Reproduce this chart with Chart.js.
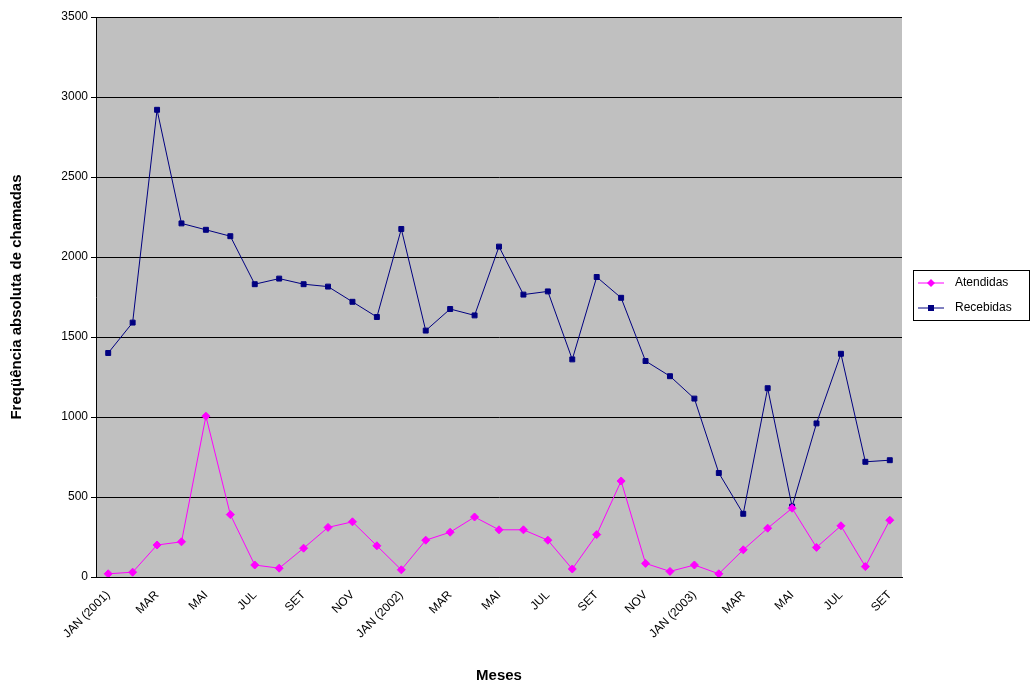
<!DOCTYPE html>
<html>
<head>
<meta charset="utf-8">
<script src="https://cdn.jsdelivr.net/npm/chart.js@4"></script>
<style>
  body { margin: 0; background: #fff; }
  #wrap { position: relative; width: 1031px; height: 689px; }
</style>
</head>
<body>
<div id="wrap"><canvas id="c"></canvas></div>
<script>
const months = ["JAN (2001)","FEV","MAR","ABR","MAI","JUN","JUL","AGO","SET","OUT","NOV","DEZ",
  "JAN (2002)","FEV","MAR","ABR","MAI","JUN","JUL","AGO","SET","OUT","NOV","DEZ",
  "JAN (2003)","FEV","MAR","ABR","MAI","JUN","JUL","AGO","SET"];
const atendidas = [20,30,200,220,1005,390,75,55,180,310,345,195,45,230,280,375,295,295,230,50,265,600,85,35,75,20,170,305,430,185,320,65,355];
const recebidas = [1400,1590,2920,2210,2170,2130,1830,1865,1830,1815,1720,1625,2175,1540,1675,1635,2065,1765,1785,1360,1875,1745,1350,1255,1115,650,395,1180,440,960,1395,720,730];

const font = "'Liberation Sans', Arial, sans-serif";
Chart.defaults.font.family = font;
Chart.defaults.color = "#000";

// gray plot background + legend box
const plotBg = {
  id: "plotBg",
  beforeDraw(chart) {
    const { ctx, chartArea: a } = chart;
    ctx.save();
    ctx.fillStyle = "#C0C0C0";
    ctx.fillRect(a.left, a.top, a.right - a.left, a.bottom - a.top);
    ctx.restore();
  },
  afterDraw(chart) {
    const ctx = chart.ctx;
    ctx.save();
    ctx.strokeStyle = "#000";
    ctx.lineWidth = 1;
    ctx.strokeRect(913.5, 270.5, 116, 50);
    ctx.font = "12px " + font;
    ctx.fillStyle = "#000";
    ctx.textBaseline = "middle";
    const items = [["Atendidas", "#FF00FF", "diamond", 283], ["Recebidas", "#000080", "square", 308]];
    items.forEach(([t, c, s, y]) => {
      ctx.strokeStyle = c;
      ctx.beginPath(); ctx.moveTo(918, y); ctx.lineTo(944, y); ctx.stroke();
      ctx.fillStyle = c;
      if (s === "square") ctx.fillRect(928, y - 3, 6, 6);
      else { ctx.beginPath(); ctx.moveTo(931, y - 4); ctx.lineTo(935, y); ctx.lineTo(931, y + 4); ctx.lineTo(927, y); ctx.fill(); }
      ctx.fillStyle = "#000";
      ctx.fillText(t, 955, y);
    });
    ctx.restore();
  }
};

new Chart(document.getElementById("c"), {
  type: "line",
  data: {
    labels: months,
    datasets: [
      { label: "Atendidas", data: atendidas, borderColor: "#FF00FF", backgroundColor: "#FF00FF",
        borderWidth: 1, pointStyle: "rectRot", pointRadius: 4, pointHoverRadius: 4, tension: 0 },
      { label: "Recebidas", data: recebidas, borderColor: "#000080", backgroundColor: "#000080",
        borderWidth: 1, pointStyle: "rect", pointRadius: 3.5, pointHoverRadius: 3.5, tension: 0 }
    ]
  },
  options: {
    responsive: true,
    maintainAspectRatio: false,
    animation: false,
    layout: { padding: { top: 17, right: 129, left: 4, bottom: 0 } },
    plugins: { legend: { display: false }, tooltip: { enabled: false } },
    scales: {
      x: {
        offset: true,
        grid: { display: false },
        border: { color: "#000" },
        afterFit: (s) => { s.height = 112; },
        ticks: {
          autoSkip: false, maxRotation: 45, minRotation: 45,
          font: { size: 12 },
          callback: (v, i) => (i % 2 === 0 ? months[i] : "")
        },
        title: { display: true, text: "Meses", font: { size: 15, weight: "bold" }, padding: { top: 4, bottom: 4 } }
      },
      y: {
        min: 0, max: 3500,
        afterFit: (s) => { s.width = 92; },
        grid: { color: "#000", tickLength: 5 },
        border: { color: "#000" },
        ticks: { stepSize: 500, font: { size: 12 }, callback: (v) => String(v) },
        title: { display: true, text: "Freqüência absoluta de chamadas", font: { size: 15, weight: "bold" } }
      }
    }
  },
  plugins: [plotBg]
});
</script>
</body>
</html>
